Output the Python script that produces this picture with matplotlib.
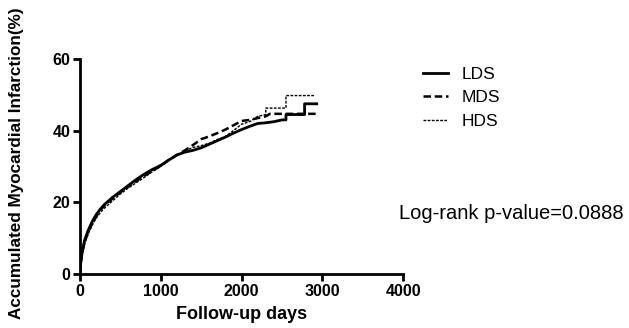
import matplotlib
matplotlib.use("Agg")
import matplotlib.pyplot as plt

plt.rcParams["font.family"] = ["Liberation Sans", "DejaVu Sans"]

# ── Data ──────────────────────────────────────────────────────────────────────
lds_days = [0, 10, 30, 60, 100, 150, 200, 250, 300, 400, 500, 600, 700, 800, 900,
            1000, 1100, 1200, 1300, 1400, 1500, 1600, 1700, 1800, 1900, 2000,
            2100, 2200, 2300, 2400, 2500, 2550, 2550, 2780, 2780, 2930]
lds_pct = [0, 3, 6.5, 9.5, 12, 14.5, 16.5, 18, 19.3, 21.3, 23, 24.7, 26.4, 27.9, 29.2,
           30.3, 31.8, 33.2, 34, 34.5, 35.2, 36.2, 37.2, 38.2, 39.3, 40.3,
           41.2, 42, 42.2, 42.5, 43, 43, 44.5, 44.5, 47.5, 47.5]

mds_days = [0, 10, 30, 60, 100, 150, 200, 250, 300, 400, 500, 600, 700, 800, 900,
            1000, 1100, 1200, 1300, 1400, 1500, 1600, 1700, 1800, 1900, 2000,
            2100, 2200, 2300, 2350, 2930]
mds_pct = [0, 3, 6, 9, 11.5, 14, 16, 17.8, 19, 21, 22.8, 24.4, 26, 27.4, 28.8,
           30.2, 31.8, 33.2, 34.5, 36, 37.6, 38.4, 39.3, 40.3, 41.5, 42.7,
           43, 43.5, 44, 44.7, 44.7]

hds_days = [0, 10, 30, 60, 100, 150, 200, 250, 300, 400, 500, 600, 700, 800, 900,
            1000, 1100, 1200, 1300, 1400, 1500, 1600, 1700, 1800, 1900, 2000,
            2100, 2200, 2300, 2300, 2550, 2550, 2900]
hds_pct = [0, 2.5, 5.5, 8.5, 11, 13.5, 15.5, 17, 18.3, 20.3, 22.3, 24, 25.5, 27, 28.6,
           30, 31.8, 33.2, 34.4, 35.3, 35.8, 36.5, 37.5, 38.4, 40, 41.8,
           42.5, 44, 44.5, 46.3, 46.3, 49.8, 49.8]

x_ticks = [0, 1000, 2000, 3000, 4000]
y_ticks = [0, 20, 40, 60]

# ── Figure ────────────────────────────────────────────────────────────────────
fig = plt.figure(figsize=(6.29, 3.28), dpi=100, facecolor="white")
ax = fig.add_axes([0.127, 0.165, 0.514, 0.655])

ax.plot(lds_days, lds_pct, color="black", lw=2.0, ls="-", label="LDS")
ax.plot(mds_days, mds_pct, color="black", lw=1.8, ls=(0, (3, 1.5)), label="MDS")
ax.plot(hds_days, hds_pct, color="black", lw=1.0, ls=(0, (2, 1)), label="HDS")

ax.set_xlim(0, 4000)
ax.set_ylim(0, 60)
ax.set_xticks(x_ticks)
ax.set_yticks(y_ticks)
for s in ["top", "right"]:
    ax.spines[s].set_visible(False)
for s in ["left", "bottom"]:
    ax.spines[s].set_linewidth(2)
ax.tick_params(direction="out", length=5, width=2, labelsize=11.5, pad=2)
for lab in ax.get_xticklabels() + ax.get_yticklabels():
    lab.set_fontweight("bold")

ax.set_xlabel("Follow-up days", fontsize=13, fontweight="bold")
ax.xaxis.set_label_coords(0.5, -0.15)
ax.set_ylabel("Accumulated Myocardial Infarction(%)", fontsize=12.3,
              fontweight="bold")
ax.yaxis.set_label_coords(-0.172, 0.514)

fig.legend(loc="upper left", bbox_to_anchor=(0.648, 0.845), frameon=False,
           fontsize=12.5, handlelength=1.45, handletextpad=0.75, labelspacing=0.5)

fig.text(0.635, 0.35, "Log-rank p-value=0.0888", fontsize=14.5,
         ha="left", va="center")

fig.savefig("out.png", dpi=100, facecolor="white")
